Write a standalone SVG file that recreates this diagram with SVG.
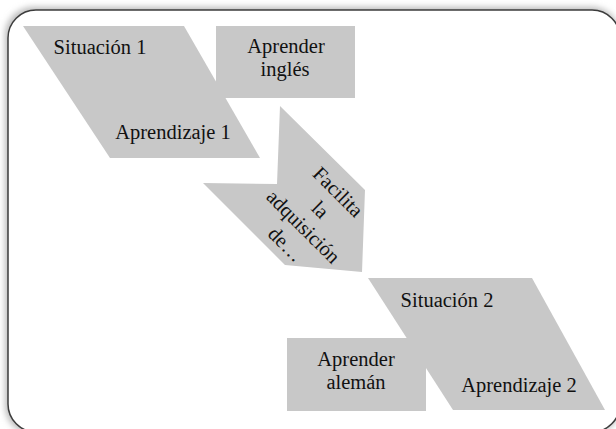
<svg xmlns="http://www.w3.org/2000/svg" width="616" height="429" viewBox="0 0 616 429">
  <defs>
    <filter id="glow" x="-10%" y="-10%" width="120%" height="120%">
      <feGaussianBlur stdDeviation="3"/>
    </filter>
  </defs>
  <style>
    .shape { fill: #c8c8c8; stroke: none; }
    .lbl { font-size: 20.5px; fill: #111; text-anchor: middle; }
  </style>
  <rect width="616" height="429" fill="#ffffff"/>
  <g id="frame">
    <rect x="5" y="7" width="615" height="427" rx="28" ry="28" fill="#bbbbbb" filter="url(#glow)"/>
    <rect x="8" y="10" width="612" height="422" rx="28" ry="28" fill="#ffffff" stroke="#3c3c3c" stroke-width="1.5"/>
  </g>
  <g font-family="'Liberation Serif', 'DejaVu Serif', serif">
  <g id="situacion1">
    <polygon class="shape" points="23,26 184,26 260,158 110,158"/>
    <text class="lbl" x="100" y="54">Situación 1</text>
    <text class="lbl" x="173" y="139">Aprendizaje 1</text>
  </g>
  <g id="aprender-ingles">
    <rect class="shape" x="216" y="26" width="139" height="72"/>
    <text class="lbl" x="286" y="53">Aprender</text>
    <text class="lbl" x="285" y="76">inglés</text>
  </g>
  <g id="facilita">
    <polygon class="shape" points="280,106 365,190 362,272 285,265 203,183 277,184"/>
    <g transform="translate(312,218) rotate(45)">
      <text class="lbl" x="0" y="-30">Facilita</text>
      <text class="lbl" x="0" y="-5">la</text>
      <text class="lbl" x="0" y="19">adquisición</text>
      <text class="lbl" x="0" y="44">de…</text>
    </g>
  </g>
  <g id="situacion2">
    <polygon class="shape" points="368,278 532,278 605,410 453,410"/>
    <text class="lbl" x="447" y="307">Situación 2</text>
    <text class="lbl" x="519" y="392">Aprendizaje 2</text>
  </g>
  <g id="aprender-aleman">
    <rect class="shape" x="287" y="338" width="139" height="73"/>
    <text class="lbl" x="356" y="366">Aprender</text>
    <text class="lbl" x="356" y="389">alemán</text>
  </g>
  </g>
  <g id="connectors"></g>
</svg>
